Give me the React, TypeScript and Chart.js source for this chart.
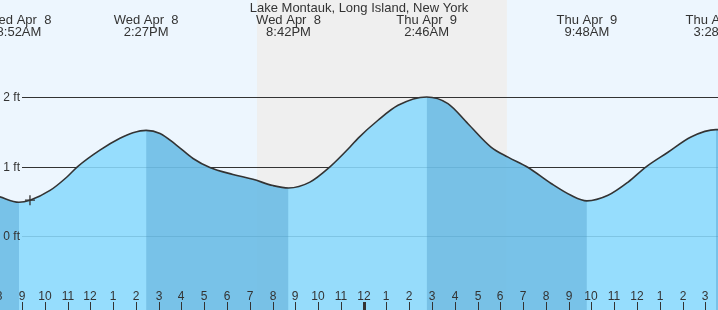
import React, { useEffect, useRef } from "react";
import { Chart, registerables } from "chart.js";

Chart.register(...registerables);

// ---- data (hours since Wed Apr 8 00:00, height in ft) ----
const stationTitle = "Lake Montauk, Long Island, New York";

const tideTimes = [
  8.0, 8.867, 9.35, 10.23, 10.96, 11.43, 12.42, 13.3, 13.87, 14.45, 15.06,
  15.79, 16.51, 17.25, 18.26, 19.14, 20.02, 20.7, 21.64, 22.52, 23.4, 23.75,
  24.63, 25.51, 26.767, 27.7, 28.58, 29.59, 30.34, 31.22, 32.23, 33.1, 33.8,
  34.73, 35.61, 36.4, 37.36, 38.37, 39.467, 40.0,
];
const tideHeights = [
  0.57, 0.49, 0.52, 0.66, 0.85, 1.0, 1.24, 1.41, 1.49, 1.525, 1.48,
  1.31, 1.12, 0.99, 0.89, 0.82, 0.73, 0.695, 0.78, 1.0, 1.285, 1.41,
  1.67, 1.885, 2.005, 1.91, 1.62, 1.285, 1.14, 0.99, 0.76, 0.59, 0.51,
  0.59, 0.78, 1.0, 1.21, 1.43, 1.535, 1.53,
];

const extremeTimes = [8.867, 14.45, 20.7, 26.767, 33.8, 39.467];
const extremeTypes = ["L", "H", "L", "H", "L", "H"];
const extremeDays = ["Wed Apr  8", "Wed Apr  8", "Wed Apr  8", "Thu Apr  9", "Thu Apr  9", "Thu Apr  9"];
const extremeClock = ["8:52AM", "2:27PM", "8:42PM", "2:46AM", "9:48AM", "3:28PM"];

const nightStart = 19.32;
const nightEnd = 30.29;

const heightTicks = [0, 1, 2];
const heightTickLabels = ["0 ft", "1 ft", "2 ft"];

const hourTicks = [
  8, 9, 10, 11, 12, 13, 14, 15, 16, 17, 18, 19, 20, 21, 22, 23, 24, 25, 26, 27,
  28, 29, 30, 31, 32, 33, 34, 35, 36, 37, 38, 39,
];
const hourTickLabels = [
  "8", "9", "10", "11", "12", "1", "2", "3", "4", "5", "6", "7", "8", "9", "10", "11", "12",
  "1", "2", "3", "4", "5", "6", "7", "8", "9", "10", "11", "12", "1", "2", "3",
];

const nowTime = 9.35;
const nowHeight = 0.52;

const X_MIN = 8.034;
const X_MAX = 39.557;
const Y_MIN = -1.06;
const Y_MAX = 3.4;

// ---- styles ----
const SKY = "#EDF6FE";
const NIGHT = "#EFEFEF";
const WATER_LIGHT = "rgba(138,218,253,0.88)";
const WATER_FALL_OVERLAY = "rgba(70,150,196,0.38)";
const INK = "#333333";
const FONT = '"Liberation Sans", Arial, sans-serif';

function isFalling(t: number): boolean {
  for (let i = 0; i < extremeTimes.length; i++) {
    if (extremeTimes[i] > t + 1e-6) return extremeTypes[i] === "L";
  }
  return extremeTypes[extremeTypes.length - 1] === "H";
}

const tidePlugin = {
  id: "tideDecor",
  beforeDraw(chart: any) {
    const { ctx, chartArea, scales } = chart;
    const x = scales.x;
    const y = scales.y;
    ctx.save();
    ctx.fillStyle = SKY;
    ctx.fillRect(chartArea.left, chartArea.top, chartArea.right - chartArea.left, chartArea.bottom - chartArea.top);
    const nx0 = x.getPixelForValue(nightStart);
    const nx1 = x.getPixelForValue(nightEnd);
    ctx.fillStyle = NIGHT;
    ctx.fillRect(nx0, chartArea.top, nx1 - nx0, chartArea.bottom - chartArea.top);
    ctx.strokeStyle = INK;
    ctx.lineWidth = 1;
    for (const v of heightTicks) {
      const py = Math.round(y.getPixelForValue(v)) + 0.5;
      ctx.beginPath();
      ctx.moveTo(22, py);
      ctx.lineTo(chartArea.right, py);
      ctx.stroke();
    }
    ctx.restore();
  },
  afterDatasetsDraw(chart: any) {
    const { ctx, chartArea, scales } = chart;
    const x = scales.x;
    const y = scales.y;
    ctx.save();
    ctx.fillStyle = INK;
    // y labels
    ctx.font = `12px ${FONT}`;
    ctx.textAlign = "right";
    ctx.textBaseline = "middle";
    heightTicks.forEach((v, i) => {
      ctx.fillText(heightTickLabels[i], 20, Math.round(y.getPixelForValue(v)) + 1);
    });
    // hour ticks
    ctx.textAlign = "center";
    ctx.textBaseline = "alphabetic";
    hourTicks.forEach((h, i) => {
      const px = Math.round(x.getPixelForValue(h));
      const w = h % 24 === 0 ? 3 : 1;
      ctx.fillRect(px - Math.floor(w / 2), chartArea.bottom - 8, w, 8);
      ctx.fillText(hourTickLabels[i], px, chartArea.bottom - 10);
    });
    // title
    ctx.font = `13px ${FONT}`;
    ctx.fillText(stationTitle, (chartArea.left + chartArea.right) / 2, 12);
    // extreme labels
    extremeTimes.forEach((t, i) => {
      const px = x.getPixelForValue(t);
      ctx.fillText(extremeDays[i], px, 24);
      ctx.fillText(extremeClock[i], px, 36);
    });
    ctx.restore();
  },
};

export default function App() {
  const ref = useRef<HTMLCanvasElement>(null);
  useEffect(() => {
    document.body.style.margin = "0";
    document.body.style.overflow = "hidden";
    const canvas = ref.current!;
    const tidePoints = tideTimes.map((t, i) => ({ x: t, y: tideHeights[i] }));
    const chart = new Chart(canvas, {
      type: "line",
      data: {
        datasets: [
          {
            label: "now",
            data: [{ x: nowTime, y: nowHeight }],
            showLine: false,
            pointStyle: "cross",
            pointRadius: 5,
            pointBorderWidth: 1.3,
            borderColor: INK,
            backgroundColor: INK,
            fill: false,
          } as any,
          {
            label: "falling",
            data: tidePoints,
            borderColor: "rgba(0,0,0,0)",
            borderWidth: 0,
            backgroundColor: "rgba(0,0,0,0)",
            fill: "start",
            pointRadius: 0,
            cubicInterpolationMode: "monotone",
            segment: {
              backgroundColor: (c: any) => (isFalling(c.p0.parsed.x) ? WATER_FALL_OVERLAY : "rgba(0,0,0,0)"),
            },
          } as any,
          {
            label: "tide",
            data: tidePoints,
            borderColor: INK,
            borderWidth: 1.6,
            backgroundColor: WATER_LIGHT,
            fill: "start",
            pointRadius: 0,
            cubicInterpolationMode: "monotone",
          } as any,
        ],
      },
      options: {
        responsive: false,
        animation: false,
        maintainAspectRatio: false,
        layout: { padding: 0, autoPadding: false },
        plugins: {
          legend: { display: false },
          tooltip: { enabled: false },
          title: { display: false },
          filler: { drawTime: "beforeDatasetsDraw" },
        },
        scales: {
          x: { type: "linear", min: X_MIN, max: X_MAX, display: false },
          y: { type: "linear", min: Y_MIN, max: Y_MAX, display: false },
        },
      } as any,
      plugins: [tidePlugin],
    });
    return () => chart.destroy();
  }, []);
  return (
    <div style={{ width: 718, height: 310 }}>
      <canvas ref={ref} width={718} height={310} style={{ display: "block" }} />
    </div>
  );
}
